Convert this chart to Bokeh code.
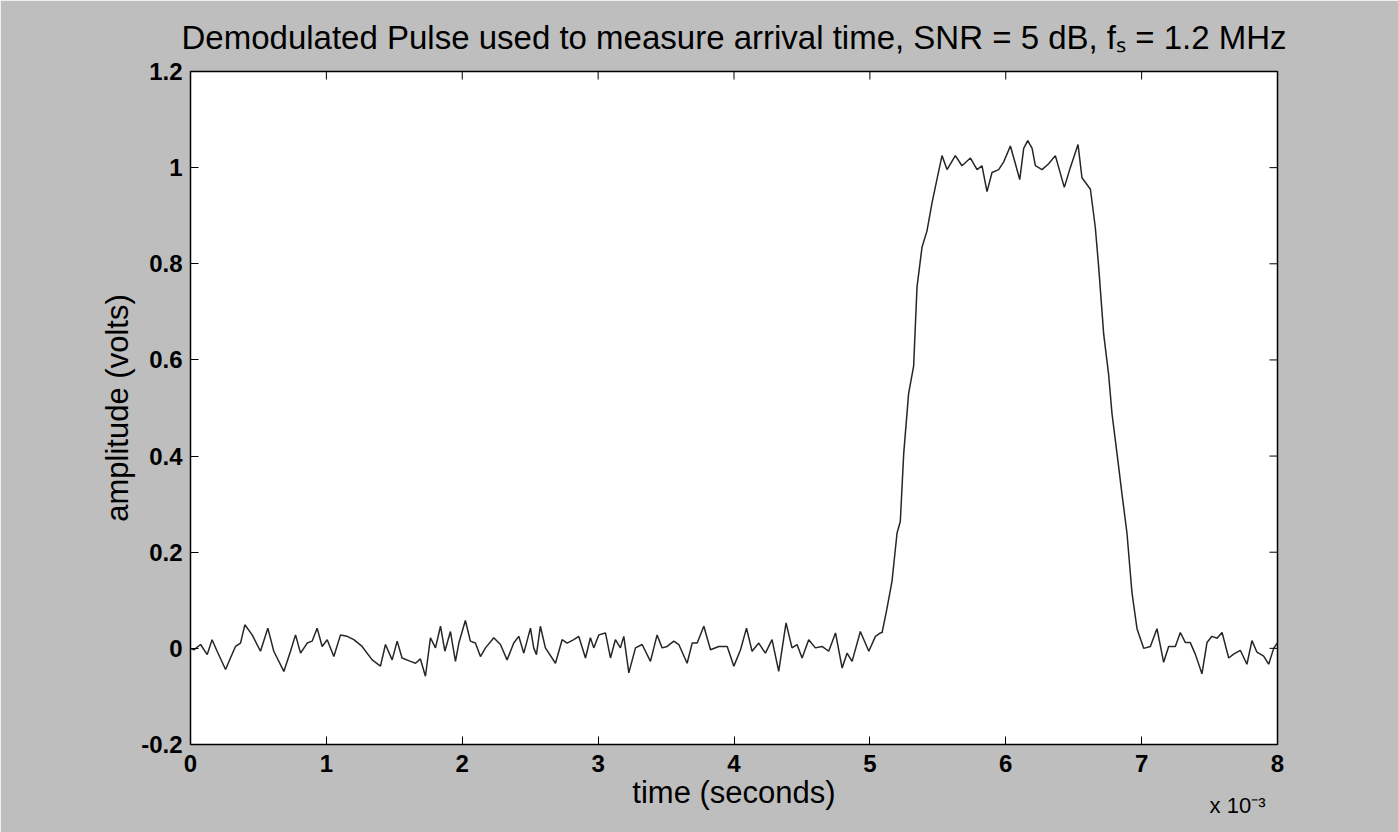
from bokeh.plotting import figure
from bokeh.models import FixedTicker, Range1d, Title
from bokeh.embed import file_html
from bokeh.resources import INLINE

# time in milliseconds (axis shows x 10^-3 seconds)
t_noise1 = [0.000, 0.025, 0.074, 0.123, 0.159, 0.196, 0.258, 0.294, 0.331, 0.368,
            0.400, 0.454, 0.515, 0.569, 0.613, 0.687, 0.736, 0.773, 0.810, 0.859,
            0.895, 0.932, 0.969, 1.006, 1.055, 1.104, 1.153, 1.202, 1.263, 1.337,
            1.398, 1.435, 1.484, 1.521, 1.557, 1.619, 1.656, 1.692, 1.729, 1.766,
            1.803, 1.840, 1.872, 1.913, 1.950, 1.975, 2.023, 2.060, 2.097, 2.134,
            2.171, 2.232, 2.281, 2.330, 2.379, 2.416, 2.453, 2.502]
v_noise1 = [0.000, -0.003, 0.008, -0.013, 0.018, -0.006, -0.044, -0.020, 0.004, 0.011,
            0.049, 0.028, -0.006, 0.042, -0.006, -0.048, -0.006, 0.028, -0.010, 0.011,
            0.015, 0.042, 0.004, 0.018, -0.017, 0.028, 0.025, 0.018, 0.004, -0.024,
            -0.037, 0.008, -0.024, 0.015, -0.020, -0.027, -0.031, -0.022, -0.058, 0.022,
            0.001, 0.046, -0.006, 0.035, -0.027, 0.011, 0.058, 0.015, 0.011, -0.017,
            0.001, 0.022, 0.008, -0.024, 0.011, 0.025, -0.010, 0.042]

t_noise2 = [2.526, 2.546, 2.575, 2.612, 2.686, 2.735, 2.772, 2.821, 2.857, 2.907,
            2.943, 2.968, 3.005, 3.054, 3.091, 3.127, 3.164, 3.189, 3.226, 3.275,
            3.324, 3.385, 3.434, 3.471, 3.508, 3.557, 3.594, 3.655, 3.692, 3.729,
            3.778, 3.827, 3.888, 3.950, 3.999, 4.048, 4.092, 4.133, 4.182, 4.231,
            4.280, 4.329, 4.383, 4.427, 4.464, 4.501, 4.550, 4.599, 4.648, 4.697,
            4.747, 4.796, 4.832, 4.869, 4.930, 4.992, 5.041, 5.077]
v_noise2 = [0.001, -0.013, 0.046, 0.001, -0.031, 0.018, 0.011, 0.018, 0.025, -0.020,
            0.022, 0.001, 0.028, 0.032, -0.020, 0.018, 0.001, 0.025, -0.051, 0.001,
            0.008, -0.027, 0.028, 0.001, 0.004, 0.015, 0.008, -0.031, 0.011, 0.011,
            0.046, -0.003, 0.004, 0.004, -0.037, -0.003, 0.042, -0.006, 0.011, -0.010,
            0.018, -0.048, 0.053, 0.001, 0.008, -0.020, 0.018, 0.001, 0.004, -0.006,
            0.032, -0.041, -0.010, -0.027, 0.035, -0.006, 0.025, 0.032]

t_pulse = [5.090, 5.126, 5.163, 5.200, 5.224, 5.249, 5.285, 5.322, 5.347, 5.384,
           5.420, 5.457, 5.499, 5.531, 5.568, 5.629, 5.678, 5.740, 5.789, 5.825,
           5.862, 5.899, 5.948, 5.985, 6.034, 6.071, 6.103, 6.132, 6.162, 6.194,
           6.218, 6.267, 6.316, 6.365, 6.431, 6.475, 6.532, 6.561, 6.623, 6.659,
           6.684, 6.721, 6.757, 6.782, 6.819, 6.855, 6.892, 6.929, 6.966, 7.015]
v_pulse = [0.033, 0.083, 0.140, 0.240, 0.264, 0.405, 0.530, 0.587, 0.752, 0.835,
           0.868, 0.926, 0.983, 1.025, 0.996, 1.025, 1.004, 1.020, 0.996, 1.004,
           0.950, 0.990, 0.996, 1.012, 1.045, 1.008, 0.975, 1.040, 1.056, 1.040,
           1.004, 0.996, 1.008, 1.025, 0.959, 1.000, 1.048, 0.979, 0.955, 0.876,
           0.793, 0.653, 0.570, 0.488, 0.405, 0.322, 0.240, 0.116, 0.041, 0.000]

t_noise3 = [7.064, 7.113, 7.162, 7.199, 7.248, 7.285, 7.322, 7.358, 7.395, 7.444,
            7.481, 7.518, 7.555, 7.592, 7.641, 7.677, 7.726, 7.775, 7.812, 7.849,
            7.898, 7.935, 7.972, 8.000]
v_noise3 = [0.004, 0.041, -0.029, 0.004, 0.004, 0.033, 0.012, 0.012, -0.012, -0.053,
            0.012, 0.025, 0.021, 0.033, -0.020, -0.012, -0.004, -0.033, 0.016, -0.008,
            -0.016, -0.033, 0.000, 0.012]

x_ticks = [0, 1, 2, 3, 4, 5, 6, 7, 8]
y_ticks = [-0.2, 0, 0.2, 0.4, 0.6, 0.8, 1, 1.2]
y_tick_labels = ["-0.2", "0", "0.2", "0.4", "0.6", "0.8", "1", "1.2"]

t_all = t_noise1 + t_noise2 + t_pulse + t_noise3
v_all = v_noise1 + v_noise2 + v_pulse + v_noise3

FONT = "Liberation Sans"
BG = "#bebebe"
X0, X1, Y0, Y1 = 0, 8, -0.2, 1.2
BL, BR, BT, BB = 190, 121, 71, 88
W, H = 1398, 832
TICK = 8  # px

p = figure(width=W, height=H, output_backend="svg", toolbar_location=None,
           x_range=Range1d(X0, X1), y_range=Range1d(Y0, Y1),
           min_border_left=BL, min_border_right=BR, min_border_top=BT,
           min_border_bottom=BB)
p.background_fill_color = "white"
p.border_fill_color = BG
p.outline_line_color = "black"
p.outline_line_width = 1.5
p.grid.visible = False

p.title.text = "Demodulated Pulse used to measure arrival time, SNR = 5 dB, f\u209b = 1.2 MHz"
p.title.text_font = FONT
p.title.text_font_size = "33px"
p.title.text_font_style = "normal"
p.title.align = "center"
p.title.text_color = "black"
p.title.standoff = 32

p.line(t_all, v_all, line_color="#262626", line_width=1.5)

# inward ticks on the top and right edges (MATLAB box style)
dx = TICK * (X1 - X0) / (W - BL - BR)
dy = TICK * (Y1 - Y0) / (H - BT - BB)
p.segment(x0=x_ticks, x1=x_ticks, y0=[Y1] * len(x_ticks), y1=[Y1 - dy] * len(x_ticks),
          line_color="black", line_width=1)
p.segment(x0=[X1] * len(y_ticks), x1=[X1 - dx] * len(y_ticks), y0=y_ticks, y1=y_ticks,
          line_color="black", line_width=1)

for ax, ticks in ((p.xaxis[0], x_ticks), (p.yaxis[0], y_ticks)):
    ax.ticker = FixedTicker(ticks=ticks)
    ax.major_tick_in = TICK
    ax.major_tick_out = 0
    ax.minor_tick_line_color = None
    ax.axis_line_color = None
    ax.major_tick_line_color = "black"
    ax.major_label_text_font = FONT
    ax.major_label_text_font_style = "bold"
    ax.major_label_text_color = "black"
    ax.major_label_text_font_size = "24px"
    ax.axis_label_text_font = FONT
    ax.axis_label_text_font_size = "31px"
    ax.axis_label_text_font_style = "normal"
    ax.axis_label_text_color = "black"

p.yaxis[0].major_label_overrides = dict(zip(y_ticks, y_tick_labels))
p.xaxis[0].major_label_standoff = 10
p.yaxis[0].major_label_standoff = 8
p.xaxis[0].axis_label = "time (seconds)"
p.yaxis[0].axis_label = "amplitude (volts)"
p.xaxis[0].axis_label_standoff = 0
p.yaxis[0].axis_label_standoff = 3

mult = Title(text="x 10\u207b\u00b3", align="right", vertical_align="top",
             text_font=FONT, text_font_size="22px", text_font_style="normal",
             text_color="black", standoff=-40, offset=12)
p.add_layout(mult, "below")

open("out.html", "w").write(file_html(p, INLINE))
